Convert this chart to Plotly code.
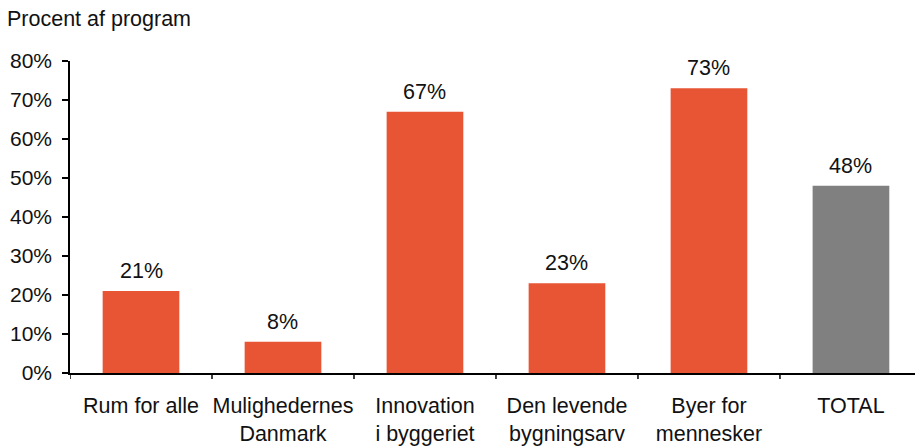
import plotly.graph_objects as go

# Andel af program pr. indsatsområde
categories = ["Rum for alle", "Mulighedernes<br>Danmark", "Innovation<br>i byggeriet",
              "Den levende<br>bygningsarv", "Byer for<br>mennesker", "TOTAL"]
values = [21, 8, 67, 23, 73, 48]
labels = ["21%", "8%", "67%", "23%", "73%", "48%"]
colors = ["#E85535", "#E85535", "#E85535", "#E85535", "#E85535", "#808080"]

FONT = "Liberation Sans, Arial, sans-serif"
SIZE = 21.5

fig = go.Figure()
fig.add_trace(go.Bar(
    x=list(range(len(categories))),
    y=values,
    marker=dict(color=colors, line=dict(width=0)),
    width=0.54,
    hoverinfo="skip",
))

for i, (v, t) in enumerate(zip(values, labels)):
    fig.add_annotation(x=i, y=v, text=t, showarrow=False, yanchor="bottom",
                       yshift=6, font=dict(family=FONT, size=SIZE, color="#111111"))

fig.update_layout(
    width=915, height=446,
    margin=dict(l=70, r=0, t=61, b=71),
    paper_bgcolor="white", plot_bgcolor="white",
    showlegend=False,
    font=dict(family=FONT, size=SIZE, color="#111111"),
    title=dict(text="Procent af program", xref="container", yref="container",
               x=7 / 915, xanchor="left", y=1 - 18 / 446, yanchor="middle",
               font=dict(family=FONT, size=SIZE, color="#111111")),
    xaxis=dict(
        range=[-0.5, 5.451],
        tickmode="array", tickvals=list(range(len(categories))), ticktext=categories,
        showline=True, linecolor="black", linewidth=1.5,
        ticks="", showgrid=False, zeroline=False, fixedrange=True,
        ticklabelstandoff=12,
    ),
    yaxis=dict(
        range=[0, 80], dtick=10, ticksuffix="%",
        showline=True, linecolor="black", linewidth=1.5,
        ticks="outside", ticklen=6, tickwidth=1.5, tickcolor="black",
        showgrid=False, zeroline=False, fixedrange=True,
        ticklabelstandoff=6,
        tickfont=dict(size=21),
    ),
)

# Tick marks between categories on the x axis
for b in [-0.5, 0.5, 1.5, 2.5, 3.5, 4.5]:
    fig.add_shape(type="line", xref="x", yref="y domain", x0=b, x1=b, y0=0, y1=-0.019,
                  line=dict(color="black", width=1.5))

fig.write_html("out.html")
